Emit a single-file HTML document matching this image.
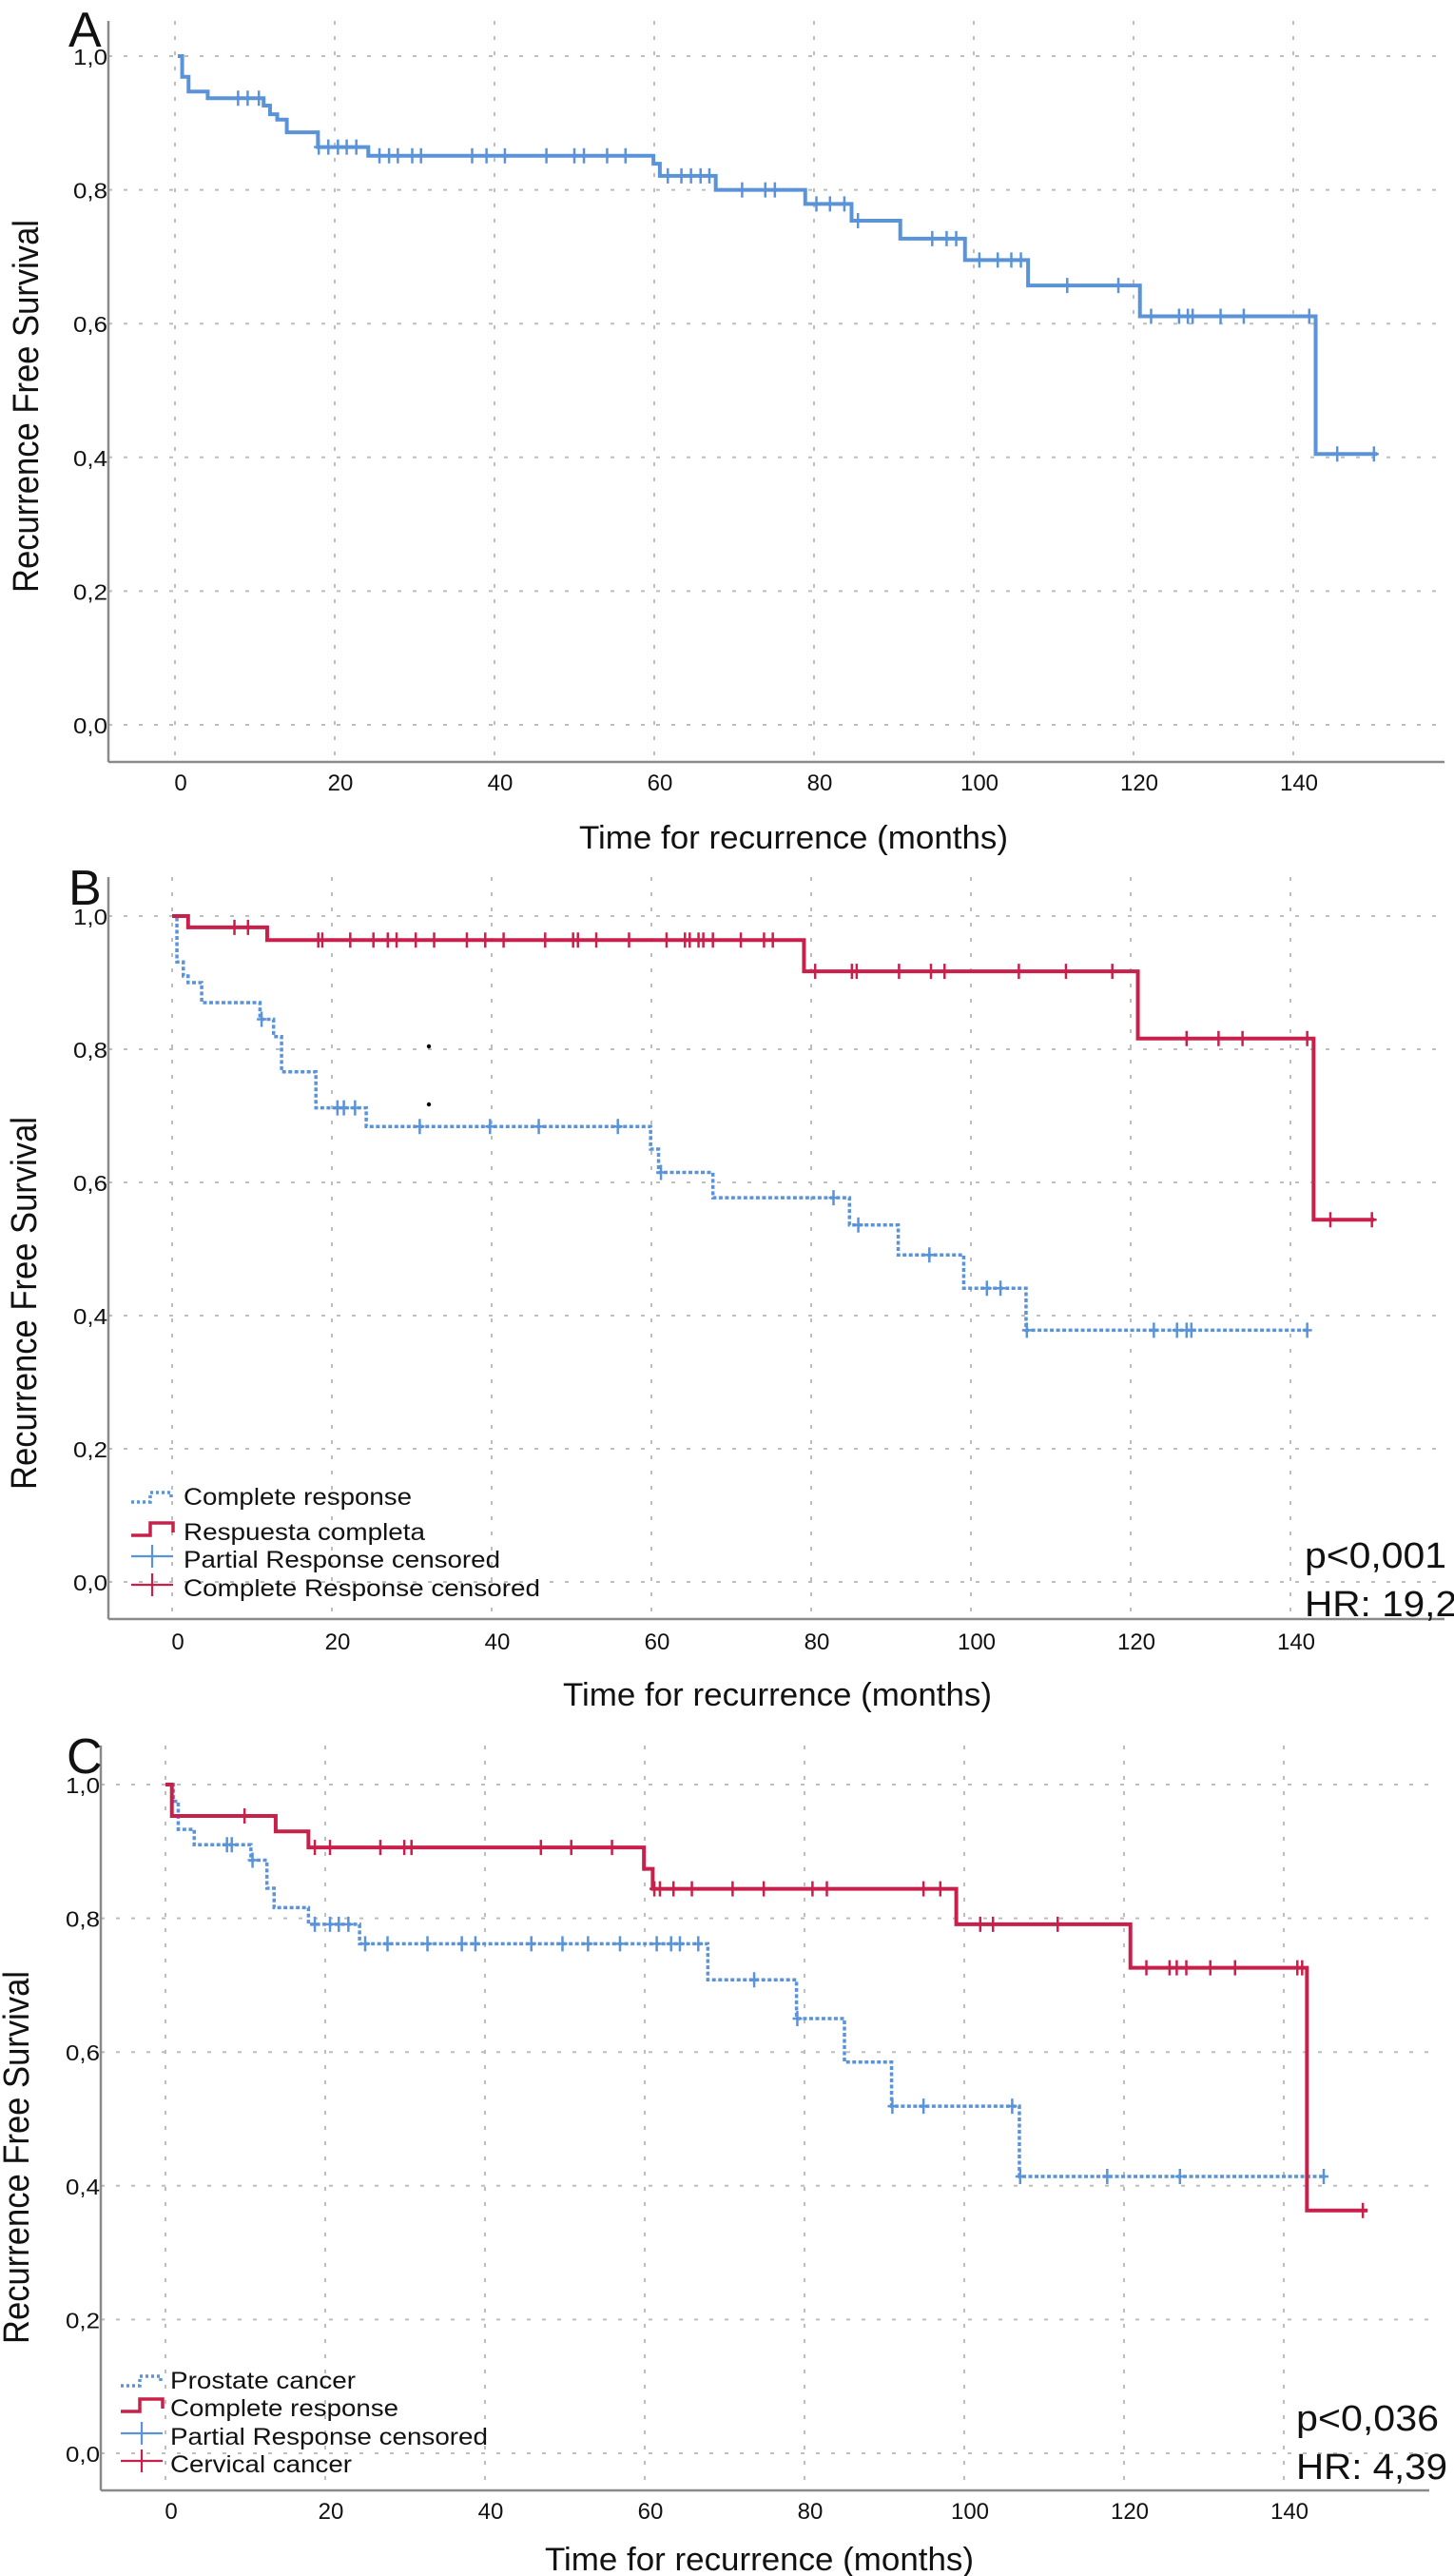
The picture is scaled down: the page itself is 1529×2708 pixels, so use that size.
<!DOCTYPE html>
<html><head><meta charset="utf-8"><title>Recurrence Free Survival</title>
<style>
html,body{margin:0;padding:0;background:#fff;}
svg{display:block;}
text{font-family:"Liberation Sans",sans-serif;fill:#111;}
</style></head>
<body>
<svg id="fig" xmlns="http://www.w3.org/2000/svg" width="1529" height="2708" viewBox="0 0 1529 2708"></svg>
<script>
// ---- shared ticks ----
const xTicks = [0,20,40,60,80,100,120,140];
const yTicks = [0,0.2,0.4,0.6,0.8,1.0];
const yTickLabels = ["0,0","0,2","0,4","0,6","0,8","1,0"];

// ---- Panel A ----
const aTimes = [0.9,1.7,4.1,11.1,11.9,12.8,14.0,17.9,24.2,59.9,60.7,67.7,78.9,84.7,90.8,98.9,106.8,120.8,142.8];
const aSurv  = [0.969,0.947,0.937,0.926,0.913,0.905,0.886,0.864,0.851,0.839,0.821,0.800,0.779,0.754,0.727,0.695,0.657,0.611,0.405];
const aCens  = [7.9,9.1,10.5,18.0,19.2,20.4,21.5,22.7,25.6,26.8,27.9,29.7,30.8,37.2,39.0,41.3,46.5,50.0,51.2,54.1,56.4,61.7,63.4,64.6,65.8,66.9,71.0,73.9,75.1,80.3,82.0,83.8,85.5,94.8,96.6,97.8,100.7,103.0,104.7,105.9,111.7,118.1,122.2,125.7,126.8,127.4,130.9,133.8,142.0,145.5,150.1];

// ---- Panel B ----
const bRedTimes = [2.0,11.9,79.1,120.9,142.9];
const bRedSurv  = [0.983,0.964,0.917,0.816,0.544];
const bRedCens  = [7.8,9.5,18.3,18.8,22.3,25.2,27.0,28.1,30.5,32.8,36.9,39.2,41.5,46.7,50.2,50.8,53.1,57.2,61.9,64.2,64.8,65.9,66.5,67.7,71.2,74.1,75.2,80.5,85.1,85.7,91.0,95.0,96.7,106.0,111.9,117.7,127.0,131.0,134.0,142.1,145.0,150.2];
const bBlueTimes = [0.6,1.4,2.0,3.7,11.0,12.7,13.7,18.0,24.3,59.9,60.9,67.7,84.8,90.9,99.1,106.9];
const bBlueSurv  = [0.931,0.91,0.90,0.87,0.845,0.819,0.766,0.712,0.684,0.65,0.615,0.577,0.536,0.491,0.441,0.378];
const bBlueCens  = [11.2,20.7,21.5,22.9,31.0,39.8,45.9,55.8,61.2,82.8,85.9,94.8,102.0,103.7,107.0,122.9,125.8,127.0,127.6,142.1];

// ---- Panel C ----
const cRedTimes = [0.8,13.8,17.9,59.9,61.0,99.0,120.8,142.9];
const cRedSurv  = [0.953,0.930,0.906,0.874,0.844,0.791,0.726,0.363];
const cRedCens  = [9.9,18.7,20.6,26.9,29.9,30.8,47.0,50.8,55.9,61.2,61.9,63.6,65.9,71.0,74.9,81.0,82.8,94.9,97.0,102.0,103.6,111.7,122.8,125.7,126.6,127.8,130.8,133.9,141.7,142.3,149.9];
const cBlueTimes = [1.0,1.6,3.6,10.7,12.7,13.6,17.9,24.3,67.9,79.0,85.0,90.9,106.9];
const cBlueSurv  = [0.975,0.933,0.91,0.887,0.845,0.816,0.791,0.762,0.708,0.65,0.585,0.519,0.414];
const cBlueCens  = [7.7,8.3,10.9,18.7,20.6,21.7,22.9,25.0,27.8,32.8,37.1,38.8,45.8,49.7,52.9,56.9,61.5,63.3,64.4,66.7,73.7,79.1,91.0,94.9,106.0,107.0,117.9,127.0,145.0];

const NS = "http://www.w3.org/2000/svg";
const svg = document.getElementById("fig");
const BLUE = "#5a93d8", RED = "#c8204a";

function mk(tag, attrs, parent){
  const e = document.createElementNS(NS, tag);
  for (const k in attrs) e.setAttribute(k, attrs[k]);
  (parent||svg).appendChild(e);
  return e;
}
function survAt(times, surv, t){
  let s = 1;
  for (let i=0;i<times.length;i++){ if (times[i] <= t) s = surv[i]; }
  return s;
}

function drawPanel(P){
  const g = mk("g", {});
  
  
  const X = m => P.x0 + m*P.pxM;
  const Y = s => P.y0 - s*P.pxS;
  xTicks.forEach(t=>{
    const l = mk("line",{x1:X(t),x2:X(t),y1:P.top,y2:P.axisY,stroke:"#bdbdbd","stroke-width":2,"stroke-dasharray":"4 12"},g);
    
    
  });
  yTicks.forEach(t=>{
    const l = mk("line",{x1:P.axisX,x2:P.right,y1:Y(t),y2:Y(t),stroke:"#bdbdbd","stroke-width":2,"stroke-dasharray":"4 12"},g);
    
    
  });
  const ya = mk("line",{x1:P.axisX,x2:P.axisX,y1:P.top,y2:P.axisY,stroke:"#8a8a8a","stroke-width":2.5},g);
  
  
  const xa = mk("line",{x1:P.axisX,x2:P.right,y1:P.axisY,y2:P.axisY,stroke:"#8a8a8a","stroke-width":2.5},g);
  
  
  xTicks.forEach(t=>{
    const tx = mk("text",{x:X(t)+6,y:P.tickY,"text-anchor":"middle","font-size":24},g);
    tx.textContent = String(t);
    
    
  });
  yTicks.forEach((t,i)=>{
    const tx = mk("text",{x:P.axisX-1,y:Y(t)+9,"text-anchor":"end","font-size":23,textLength:36,lengthAdjust:"spacingAndGlyphs"},g);
    tx.textContent = yTickLabels[i];
    
    
  });
  const xt = mk("text",{x:P.xTitleX,y:P.xTitleY,"font-size":34,textLength:451,lengthAdjust:"spacingAndGlyphs"},g);
  xt.textContent = "Time for recurrence (months)";
  
  
  const ytl = mk("text",{x:0,y:0,"text-anchor":"middle","font-size":38,textLength:392,lengthAdjust:"spacingAndGlyphs",transform:`translate(${P.yTitleX},${P.yTitleY}) rotate(-90)`},g);
  ytl.textContent = "Recurrence Free Survival";
  
  
  const pl = mk("text",{x:P.letterX,y:P.letterY,"font-size":52},g);
  pl.textContent = P.letter;
  
  
  P.series.forEach(S=>{
    let d = `M${X(S.start)},${Y(1)}`;
    S.times.forEach((t,i)=>{ d += ` H${X(t)} V${Y(S.surv[i])}`; });
    d += ` H${X(S.end)}`;
    const p = mk("path",{d:d,fill:"none",stroke:S.color,"stroke-width":S.dash?3.5:4,"stroke-dasharray":S.dash||"none"},g);
    
    
    S.cens.forEach(c=>{
      const cx = X(c), cy = Y(survAt(S.times,S.surv,c));
      const m = mk("path",{d:`M${cx},${cy-8} V${cy+8} M${cx-5},${cy} H${cx+5}`,stroke:S.color,"stroke-width":2.5,fill:"none"},g);
      
      
    });
  });
  return g;
}

function legend(L){
  const g = mk("g",{});
  
  
  const ix = L.ix, tx = L.tx;
  L.items.forEach((it,i)=>{
    const b = L.base[i];
    let d, extra={};
    if (it.kind==="dot"){ d=`M${ix},${b-3} H${ix+20} V${b-13} H${ix+42} V${b-5}`; extra={"stroke-dasharray":"3 3"}; }
    else if (it.kind==="step"){ d=`M${ix},${b-5} H${ix+20} V${b-18} H${ix+44} V${b-8}`; }
    else { d=`M${ix},${b-12} H${ix+44} M${ix+22},${b-24} V${b}`; }
    const p = mk("path",Object.assign({d:d,fill:"none",stroke:it.color,"stroke-width":it.kind==="plus"?2.2:3.5},extra),g);
    
    
    const t = mk("text",{x:tx,y:b,"font-size":25,textLength:it.w,lengthAdjust:"spacingAndGlyphs"},g);
    t.textContent = it.label;
    
    
  });
}
function stats(x, y1, y2, a, b, w1, w2){
  const t1 = mk("text",{x:x,y:y1,"font-size":38,textLength:w1,lengthAdjust:"spacingAndGlyphs"});
  t1.textContent = a;
  
  
  const t2 = mk("text",{x:x,y:y2,"font-size":38,textLength:w2,lengthAdjust:"spacingAndGlyphs"});
  t2.textContent = b;
  
  
}

drawPanel({name:"panel-a",letter:"A",letterX:72,letterY:49,x0:184,pxM:8.4,y0:762,pxS:703,axisX:114,axisY:801,top:22,right:1519,tickY:831,xTitleX:609,xTitleY:892,yTitleX:40,yTitleY:427,
  series:[{name:"overall",times:aTimes,surv:aSurv,cens:aCens,start:0.35,end:150.5,color:BLUE}]});

drawPanel({name:"panel-b",letter:"B",letterX:72,letterY:951,x0:181,pxM:8.4,y0:1663,pxS:700,axisX:114,axisY:1702,top:922,right:1519,tickY:1734,xTitleX:592,xTitleY:1793,yTitleX:38,yTitleY:1370,
  series:[
    {name:"partial-response",times:bBlueTimes,surv:bBlueSurv,cens:bBlueCens,start:0,end:142.1,color:BLUE,dash:"4 2.5"},
    {name:"complete-response",times:bRedTimes,surv:bRedSurv,cens:bRedCens,start:0,end:150.5,color:RED}
  ]});
const d1 = mk("circle",{cx:451,cy:1100,r:2.2,fill:"#000"});


const d2 = mk("circle",{cx:451,cy:1161,r:2.2,fill:"#000"});


legend({ix:138,tx:193,base:[1582,1619,1648,1678],items:[
  {kind:"dot",color:BLUE,label:"Complete response",w:240},
  {kind:"step",color:RED,label:"Respuesta completa",w:254},
  {kind:"plus",color:BLUE,label:"Partial Response censored",w:333},
  {kind:"plus",color:RED,label:"Complete Response censored",w:375}]});
stats(1372,1648,1699,"p<0,001","HR: 19,2",149,160);

drawPanel({name:"panel-c",letter:"C",letterX:70,letterY:1864,x0:174,pxM:8.4,y0:2579,pxS:703,axisX:106,axisY:2618,top:1835,right:1503,tickY:2648,xTitleX:573,xTitleY:2702,yTitleX:30,yTitleY:2268,
  series:[
    {name:"prostate-cancer",times:cBlueTimes,surv:cBlueSurv,cens:cBlueCens,start:0,end:145.2,color:BLUE,dash:"4 2.5"},
    {name:"cervical-cancer",times:cRedTimes,surv:cRedSurv,cens:cRedCens,start:0,end:150.5,color:RED}
  ]});
legend({ix:127,tx:179,base:[2511,2540,2570,2599],items:[
  {kind:"dot",color:BLUE,label:"Prostate cancer",w:195},
  {kind:"step",color:RED,label:"Complete response",w:240},
  {kind:"plus",color:BLUE,label:"Partial Response censored",w:334},
  {kind:"plus",color:RED,label:"Cervical cancer",w:191}]});
stats(1363,2555,2606,"p<0,036","HR: 4,39",150,159);
</script>
</body></html>
